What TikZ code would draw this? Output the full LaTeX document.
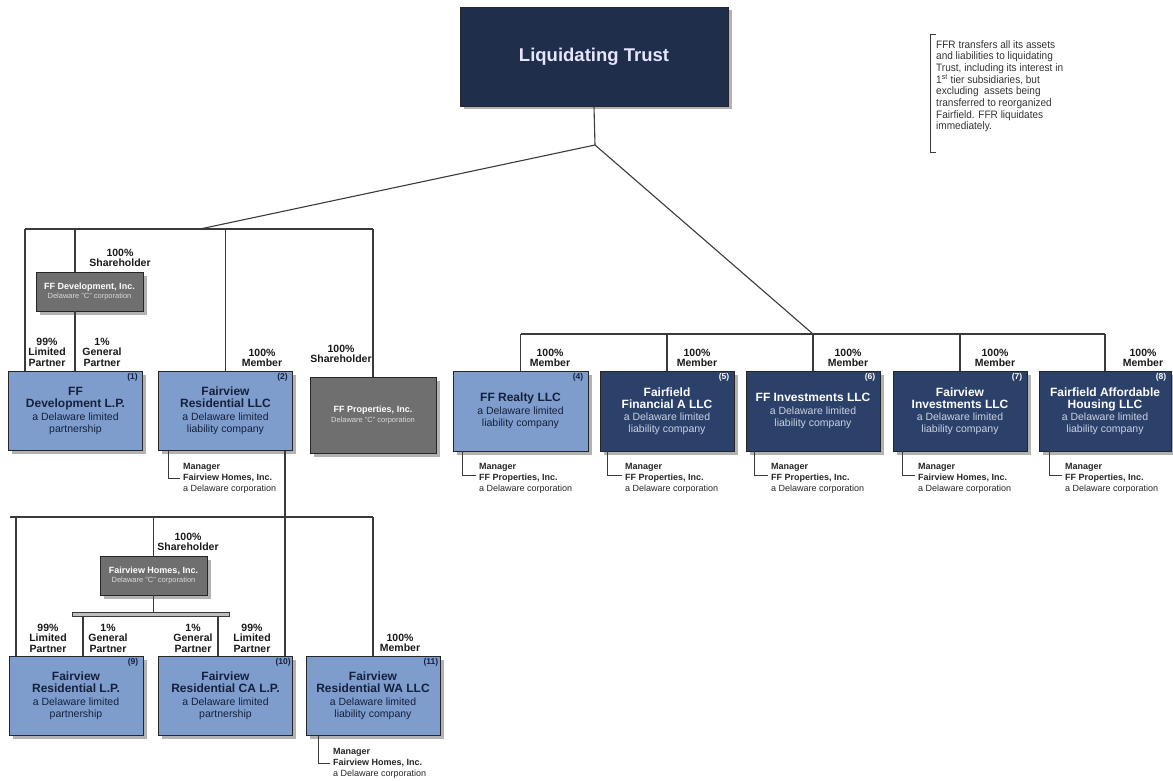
\documentclass[tikz,border=0pt]{standalone}
\usepackage{fontspec}
\setmainfont{Liberation Sans}
\newfontfamily\narrowfont{Liberation Sans}[FakeStretch=0.93]
\usetikzlibrary{shadows}
\definecolor{trustc}{HTML}{1F2E4B}
\definecolor{darkc}{HTML}{2C416A}
\definecolor{lightc}{HTML}{7F9DCC}
\definecolor{grayc}{HTML}{6F6F6F}
\definecolor{navytxt}{HTML}{14213D}
\definecolor{paletxt}{HTML}{C9D2E3}
\definecolor{lnc}{HTML}{3A3A3A}
\newcommand\bttl[1]{{\fontsize{12}{12.5}\selectfont\bfseries #1}}
\newcommand\bsub[1]{{\fontsize{10.5}{11.5}\selectfont #1}}
\newcommand\bsubd[1]{{\fontsize{10.5}{11.5}\selectfont\color{paletxt}#1}}
\newcommand\gttl[1]{{\fontsize{9}{10}\selectfont\bfseries #1}}
\newcommand\gsub[1]{{\fontsize{7.5}{9}\selectfont\color{black!15}#1}}
\begin{document}
\begin{tikzpicture}[x=1pt,y=-1pt,
  box/.style={draw=black!85, line width=0.9pt, inner sep=0pt, align=center,
    drop shadow={shadow xshift=3.5pt, shadow yshift=-3.5pt, fill=black!30, opacity=1}},
  lightbox/.style={box, fill=lightc, text=navytxt, minimum width=134pt, minimum height=79pt, font=\fontsize{11}{12}\selectfont},
  darkbox/.style={box, fill=darkc, text=white, minimum width=134pt, minimum height=80pt, font=\fontsize{11}{12}\selectfont},
  graybox/.style={box, fill=grayc, text=white, font=\fontsize{8}{9.5}\selectfont},
  num/.style={font=\fontsize{8.5}{9}\selectfont\bfseries, inner sep=0pt, anchor=north east},
  lbl/.style={font=\fontsize{10.5}{10.5}\selectfont\bfseries, align=center, inner sep=0pt, text=black!90},
  mgr/.style={font=\fontsize{9}{11}\selectfont, align=left, inner sep=0pt, anchor=west, text=black!85},
  ln/.style={draw=lnc, line width=1.1pt},
  mln/.style={draw=lnc, line width=0.9pt}]
\useasboundingbox (0,0) rectangle (1173,781);

% ---------- boxes ----------
\node[box, fill=trustc, text=white!90!blue, minimum width=268pt, minimum height=99pt,
      font=\fontsize{18.5}{20}\selectfont\bfseries] (trust) at (594,56.5) {Liquidating Trust};

\node[graybox, minimum width=107pt, minimum height=39pt] (ffdi) at (89.5,291.5)
  {\gttl{FF Development, Inc.}\\\gsub{Delaware "C" corporation}};
\node[lightbox] (b1) at (75.5,411) {\bttl{FF}\\\bttl{Development L.P.}\\[1pt]\bsub{a Delaware limited}\\\bsub{partnership}};
\node[lightbox] (b2) at (225.5,411) {\bttl{Fairview}\\\bttl{Residential LLC}\\[1pt]\bsub{a Delaware limited}\\\bsub{liability company}};
\node[graybox, minimum width=126pt, minimum height=76pt] (ffp) at (373,415)
  {\gttl{FF Properties, Inc.}\\\gsub{Delaware "C" corporation}};

\node[lightbox, minimum width=135pt, minimum height=80pt] (b4) at (520.5,411) {\bttl{FF Realty LLC}\\[1pt]\bsub{a Delaware limited}\\\bsub{liability company}};
\node[darkbox] (b5) at (667,411) {\bttl{Fairfield}\\\bttl{Financial A LLC}\\\bsubd{a Delaware limited}\\\bsubd{liability company}};
\node[darkbox] (b6) at (813,411) {\bttl{FF Investments LLC}\\[1pt]\bsubd{a Delaware limited}\\\bsubd{liability company}};
\node[darkbox] (b7) at (960,411) {\bttl{Fairview}\\\bttl{Investments LLC}\\\bsubd{a Delaware limited}\\\bsubd{liability company}};
\node[darkbox, minimum width=132pt] (b8) at (1105,411) {\bttl{Fairfield Affordable}\\\bttl{Housing LLC}\\\bsubd{a Delaware limited}\\\bsubd{liability company}};

\node[graybox, minimum width=107pt, minimum height=39pt] (fh) at (153.5,575.5)
  {\gttl{Fairview Homes, Inc.}\\\gsub{Delaware "C" corporation}};
\node[draw=lnc, line width=0.9pt, fill=black!25, minimum width=157pt, minimum height=4pt, inner sep=0pt] (bar) at (150.5,614) {};

\node[lightbox] (b9) at (76,695.5) {\bttl{Fairview}\\\bttl{Residential L.P.}\\[1pt]\bsub{a Delaware limited}\\\bsub{partnership}};
\node[lightbox] (b10) at (225.5,695.5) {\bttl{Fairview}\\\bttl{Residential CA L.P.}\\[1pt]\bsub{a Delaware limited}\\\bsub{partnership}};
\node[lightbox] (b11) at (373,696) {\bttl{Fairview}\\\bttl{Residential WA LLC}\\[1pt]\bsub{a Delaware limited}\\\bsub{liability company}};

% ---------- numbers ----------
\node[num, text=navytxt] (n1) at ([xshift=-5pt,yshift=-2.5pt]b1.north east) {(1)};
\node[num, text=navytxt] (n2) at ([xshift=-5pt,yshift=-2.5pt]b2.north east) {(2)};
\node[num, text=navytxt] (n4) at ([xshift=-5pt,yshift=-2.5pt]b4.north east) {(4)};
\node[num, text=white] (n5) at ([xshift=-5pt,yshift=-2.5pt]b5.north east) {(5)};
\node[num, text=white] (n6) at ([xshift=-5pt,yshift=-2.5pt]b6.north east) {(6)};
\node[num, text=white] (n7) at ([xshift=-5pt,yshift=-2.5pt]b7.north east) {(7)};
\node[num, text=white] (n8) at ([xshift=-5pt,yshift=-2.5pt]b8.north east) {(8)};
\node[num, text=navytxt] (n9) at ([xshift=-5pt,yshift=-2.5pt]b9.north east) {(9)};
\node[num, text=navytxt] (n10) at ([xshift=-2pt,yshift=-2.5pt]b10.north east) {(10)};
\node[num, text=navytxt] (n11) at ([xshift=-2pt,yshift=-2.5pt]b11.north east) {(11)};

% ---------- connectors ----------
\coordinate (J) at (595,145);
\coordinate (TLy) at (0,229);
\coordinate (TLl) at (25,229);
\coordinate (TLr) at (ffp.north |- TLy);
\coordinate (TLd) at (200,229);
\coordinate (X75) at (75,0);
\draw[ln] (trust.south) -- (J);
\draw[ln] (J) -- (TLd);
\draw[ln] (TLl) -- (TLr);
\draw[ln] (TLl) -- (TLl |- b1.north);
\draw[ln] (X75 |- TLy) -- (X75 |- ffdi.north);
\draw[ln] (X75 |- ffdi.south) -- (X75 |- b1.north);
\draw[ln] (b2.north |- TLy) -- (b2.north);
\draw[ln] (TLr) -- (ffp.north);

\coordinate (RBy) at (0,334);
\draw[ln] (J) -- (b6.north |- RBy);
\draw[ln] (b4.north |- RBy) -- (b8.north |- RBy);
\foreach \b in {b4,b5,b6,b7,b8} \draw[ln] (\b.north |- RBy) -- (\b.north);

\coordinate (BBy) at (0,517);
\coordinate (X285) at (285,0);
\coordinate (X16) at (16,0);
\coordinate (X10) at (10,0);
\coordinate (X83) at (83,0);
\coordinate (X218) at (218,0);
\draw[ln] (X285 |- b2.south) -- (X285 |- b10.north);
\draw[ln] (X10 |- BBy) -- (b11.north |- BBy);
\draw[ln] (X16 |- BBy) -- (X16 |- b9.north);
\draw[ln] (fh.north |- BBy) -- (fh.north);
\draw[ln] (b11.north |- BBy) -- (b11.north);
\draw[ln] (fh.south) -- (fh.south |- bar.north);
\draw[ln] (X83 |- bar.south) -- (X83 |- b9.north);
\draw[ln] (X218 |- bar.south) -- (X218 |- b10.north);

% ---------- ownership labels ----------
\node[lbl] (l1) at (120,258) {100\%\\Shareholder};
\node[lbl] (l2) at (47,352) {99\%\\Limited\\Partner};
\node[lbl] (l3) at (102,352) {1\%\\General\\Partner};
\node[lbl] (l4) at (262,358) {100\%\\Member};
\node[lbl] (l5) at (341,354) {100\%\\Shareholder};
\node[lbl] (l6) at (550,358) {100\%\\Member};
\node[lbl] (l7) at (697,358) {100\%\\Member};
\node[lbl] (l8) at (848,358) {100\%\\Member};
\node[lbl] (l9) at (995,358) {100\%\\Member};
\node[lbl] (l10) at (1143,358) {100\%\\Member};
\node[lbl] (l11) at (188,542) {100\%\\Shareholder};
\node[lbl] (l12) at (48,638) {99\%\\Limited\\Partner};
\node[lbl] (l13) at (108,638) {1\%\\General\\Partner};
\node[lbl] (l14) at (193,638) {1\%\\General\\Partner};
\node[lbl] (l15) at (252,638) {99\%\\Limited\\Partner};
\node[lbl] (l16) at (400,643) {100\%\\Member};

% ---------- managers ----------
\node[mgr] (m2) at (183,478) {\textbf{Manager}\\\textbf{Fairview Homes, Inc.}\\a Delaware corporation};
\draw[mln] ([xshift=10pt]b2.south west) |- ([xshift=-3pt]m2.west);
\node[mgr] (m4) at (479,478) {\textbf{Manager}\\\textbf{FF Properties, Inc.}\\a Delaware corporation};
\draw[mln] ([xshift=10pt]b4.south west) |- ([xshift=-3pt,yshift=3pt]m4.west);
\node[mgr] (m5) at (625,478) {\textbf{Manager}\\\textbf{FF Properties, Inc.}\\a Delaware corporation};
\draw[mln] ([xshift=8pt]b5.south west) |- ([xshift=-3pt,yshift=3pt]m5.west);
\node[mgr] (m6) at (771,478) {\textbf{Manager}\\\textbf{FF Properties, Inc.}\\a Delaware corporation};
\draw[mln] ([xshift=9pt]b6.south west) |- ([xshift=-3pt,yshift=3pt]m6.west);
\node[mgr] (m7) at (918,478) {\textbf{Manager}\\\textbf{Fairview Homes, Inc.}\\a Delaware corporation};
\draw[mln] ([xshift=10pt]b7.south west) |- ([xshift=-3pt,yshift=3pt]m7.west);
\node[mgr] (m8) at (1065,478) {\textbf{Manager}\\\textbf{FF Properties, Inc.}\\a Delaware corporation};
\draw[mln] ([xshift=11pt]b8.south west) |- ([xshift=-3pt,yshift=3pt]m8.west);
\node[mgr] (m11) at (333,763) {\textbf{Manager}\\\textbf{Fairview Homes, Inc.}\\a Delaware corporation};
\draw[mln] ([xshift=13pt]b11.south west) |- ([xshift=-3pt]m11.west);

% ---------- note ----------
\node[anchor=north west, align=left, inner sep=0pt, text=black!80,
      font=\narrowfont\fontsize{10.8}{11.7}\selectfont] (note) at (936,40)
  {FFR transfers all its assets\\and liabilities to liquidating\\Trust, including its interest in\\1\textsuperscript{st} tier subsidiaries, but\\excluding \ assets being\\transferred to reorganized\\Fairfield. FFR liquidates\\immediately.};
\draw[mln] (note.north west |- 0,34) -- (930,34) -- (930,152) -- (note.west |- 0,152);
\end{tikzpicture}
\end{document}
